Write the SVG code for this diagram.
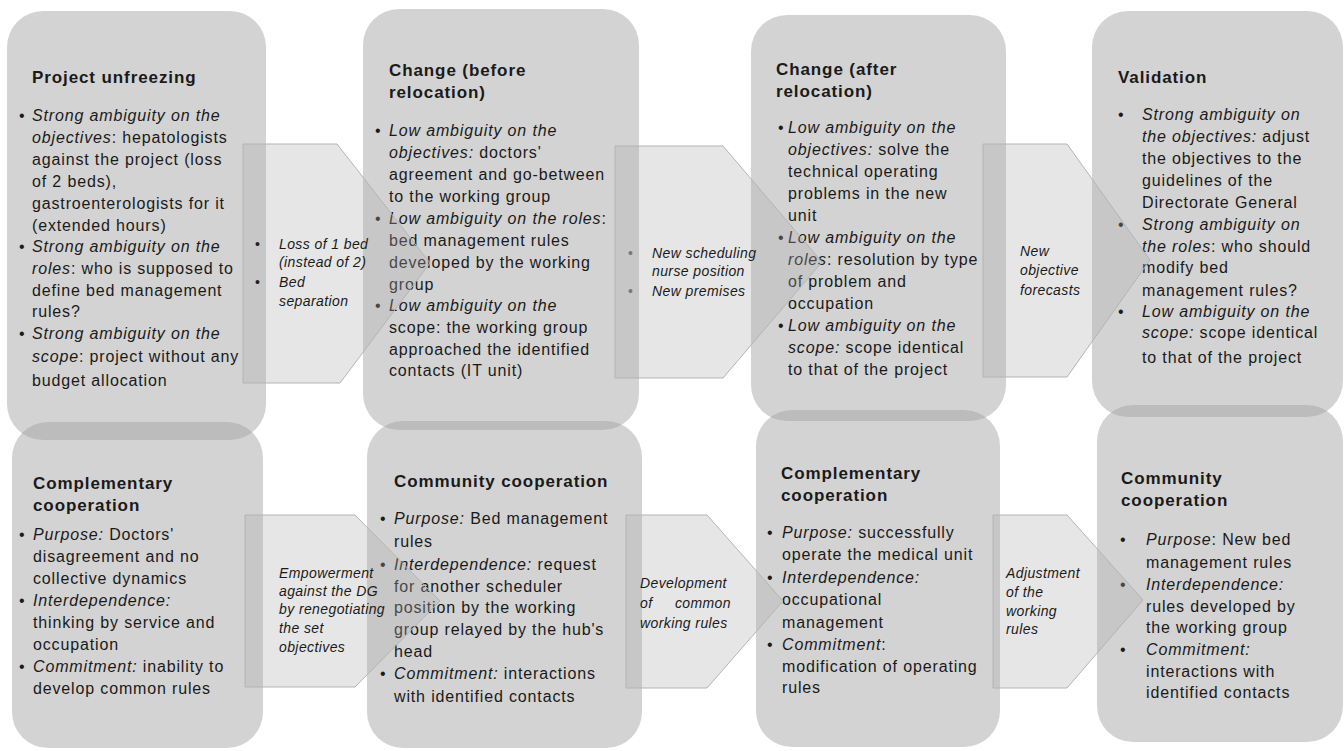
<svg xmlns="http://www.w3.org/2000/svg" width="1344" height="751" viewBox="0 0 1344 751">
<defs>
<style>
.box{fill:#a3a3a3;fill-opacity:.48}
.arr{fill:#acacac;fill-opacity:.3;stroke:#b4b4b4;stroke-width:1}
text{font-family:"Liberation Sans",Arial,sans-serif;fill:#1a1a1a}
.t{font-size:16px;letter-spacing:.85px}
.h{font-size:17px;font-weight:bold;letter-spacing:.9px}
.a{font-size:14px;font-style:italic;letter-spacing:.4px}
.i{font-style:italic}
.ab{font-size:14px;fill:#222}
.ag{font-size:14px;fill:#777}
</style>
</defs>
<rect width="1344" height="751" fill="#fff"/>

<g id="node-project-unfreezing">
<rect class="box" x="7" y="11" width="259" height="429" rx="36"/>
<text class="h" x="32" y="83">Project unfreezing</text>
<g class="t">
<text x="19" y="121">•</text><text x="19" y="252">•</text><text x="19" y="339">•</text>
<text x="32" y="121"><tspan class="i">Strong ambiguity on the</tspan></text>
<text x="32" y="143"><tspan class="i">objectives</tspan>: hepatologists</text>
<text x="32" y="165">against the project (loss</text>
<text x="32" y="187">of 2 beds),</text>
<text x="32" y="209">gastroenterologists for it</text>
<text x="32" y="231">(extended hours)</text>
<text x="32" y="252"><tspan class="i">Strong ambiguity on the</tspan></text>
<text x="32" y="274"><tspan class="i">roles</tspan>: who is supposed to</text>
<text x="32" y="296">define bed management</text>
<text x="32" y="317">rules?</text>
<text x="32" y="339"><tspan class="i">Strong ambiguity on the</tspan></text>
<text x="32" y="362"><tspan class="i">scope</tspan>: project without any</text>
<text x="32" y="386">budget allocation</text>
</g>
</g>

<g id="node-change-before">
<rect class="box" x="363" y="9" width="276" height="421" rx="36"/>
<text class="h" x="389" y="76">Change (before</text>
<text class="h" x="389" y="98">relocation)</text>
<g class="t">
<text x="375" y="136">•</text><text x="375" y="224">•</text><text x="375" y="311">•</text>
<text x="389" y="136"><tspan class="i">Low ambiguity on the</tspan></text>
<text x="389" y="158"><tspan class="i">objectives:</tspan> doctors'</text>
<text x="389" y="180">agreement and go-between</text>
<text x="389" y="202">to the working group</text>
<text x="389" y="224"><tspan class="i">Low ambiguity on the roles</tspan>:</text>
<text x="389" y="246">bed management rules</text>
<text x="389" y="268">developed by the working</text>
<text x="389" y="290">group</text>
<text x="389" y="311"><tspan class="i">Low ambiguity on the</tspan></text>
<text x="389" y="333">scope: the working group</text>
<text x="389" y="355">approached the identified</text>
<text x="389" y="376">contacts (IT unit)</text>
</g>
</g>

<g id="node-change-after">
<rect class="box" x="751" y="15" width="255" height="406" rx="36"/>
<text class="h" x="776" y="75">Change (after</text>
<text class="h" x="776" y="97">relocation)</text>
<g class="t">
<text x="778" y="133">•</text><text x="778" y="243">•</text><text x="778" y="331">•</text>
<text x="788" y="133"><tspan class="i">Low ambiguity on the</tspan></text>
<text x="788" y="155"><tspan class="i">objectives:</tspan> solve the</text>
<text x="788" y="177">technical operating</text>
<text x="788" y="199">problems in the new</text>
<text x="788" y="221">unit</text>
<text x="788" y="243"><tspan class="i">Low ambiguity on the</tspan></text>
<text x="788" y="265"><tspan class="i">roles</tspan>: resolution by type</text>
<text x="788" y="287">of problem and</text>
<text x="788" y="309">occupation</text>
<text x="788" y="331"><tspan class="i">Low ambiguity on the</tspan></text>
<text x="788" y="353"><tspan class="i">scope:</tspan> scope identical</text>
<text x="788" y="375">to that of the project</text>
</g>
</g>

<g id="node-validation">
<rect class="box" x="1092" y="11" width="251" height="406" rx="36"/>
<text class="h" x="1118" y="83">Validation</text>
<g class="t">
<text x="1118" y="120">•</text><text x="1118" y="230">•</text><text x="1118" y="317">•</text>
<text x="1142" y="120"><tspan class="i">Strong ambiguity on</tspan></text>
<text x="1142" y="142"><tspan class="i">the objectives:</tspan> adjust</text>
<text x="1142" y="164">the objectives to the</text>
<text x="1142" y="186">guidelines of the</text>
<text x="1142" y="208">Directorate General</text>
<text x="1142" y="230"><tspan class="i">Strong ambiguity on</tspan></text>
<text x="1142" y="252"><tspan class="i">the roles</tspan>: who should</text>
<text x="1142" y="273">modify bed</text>
<text x="1142" y="296">management rules?</text>
<text x="1142" y="317"><tspan class="i">Low ambiguity on the</tspan></text>
<text x="1142" y="338"><tspan class="i">scope:</tspan> scope identical</text>
<text x="1142" y="363">to that of the project</text>
</g>
</g>

<g id="node-complementary-1">
<rect class="box" x="12" y="422" width="251" height="326" rx="36"/>
<text class="h" x="33" y="489">Complementary</text>
<text class="h" x="33" y="511">cooperation</text>
<g class="t">
<text x="19" y="540">•</text><text x="19" y="606">•</text><text x="19" y="672">•</text>
<text x="33" y="540"><tspan class="i">Purpose:</tspan> Doctors'</text>
<text x="33" y="562">disagreement and no</text>
<text x="33" y="584">collective dynamics</text>
<text x="33" y="606"><tspan class="i">Interdependence:</tspan></text>
<text x="33" y="628">thinking by service and</text>
<text x="33" y="650">occupation</text>
<text x="33" y="672"><tspan class="i">Commitment:</tspan> inability to</text>
<text x="33" y="694">develop common rules</text>
</g>
</g>

<g id="node-community-1">
<rect class="box" x="367" y="421" width="275" height="327" rx="36"/>
<text class="h" x="394" y="487">Community cooperation</text>
<g class="t">
<text x="380" y="524">•</text><text x="380" y="570">•</text><text x="380" y="679">•</text>
<text x="394" y="524"><tspan class="i">Purpose:</tspan> Bed management</text>
<text x="394" y="547">rules</text>
<text x="394" y="570"><tspan class="i">Interdependence:</tspan> request</text>
<text x="394" y="592">for another scheduler</text>
<text x="394" y="613">position by the working</text>
<text x="394" y="635">group relayed by the hub's</text>
<text x="394" y="657">head</text>
<text x="394" y="679"><tspan class="i">Commitment:</tspan> interactions</text>
<text x="394" y="702">with identified contacts</text>
</g>
</g>

<g id="node-complementary-2">
<rect class="box" x="756" y="410" width="244" height="337" rx="36"/>
<text class="h" x="781" y="479">Complementary</text>
<text class="h" x="781" y="501">cooperation</text>
<g class="t">
<text x="767" y="538">•</text><text x="767" y="583">•</text><text x="767" y="650">•</text>
<text x="782" y="538"><tspan class="i">Purpose:</tspan> successfully</text>
<text x="782" y="560">operate the medical unit</text>
<text x="782" y="583"><tspan class="i">Interdependence:</tspan></text>
<text x="782" y="605">occupational</text>
<text x="782" y="628">management</text>
<text x="782" y="650"><tspan class="i">Commitment</tspan>:</text>
<text x="782" y="672">modification of operating</text>
<text x="782" y="693">rules</text>
</g>
</g>

<g id="node-community-2">
<rect class="box" x="1097" y="405" width="246" height="337" rx="36"/>
<text class="h" x="1121" y="484">Community</text>
<text class="h" x="1121" y="506">cooperation</text>
<g class="t">
<text x="1120" y="545">•</text><text x="1120" y="590">•</text><text x="1120" y="655">•</text>
<text x="1146" y="545"><tspan class="i">Purpose</tspan>: New bed</text>
<text x="1146" y="568">management rules</text>
<text x="1146" y="590"><tspan class="i">Interdependence:</tspan></text>
<text x="1146" y="612">rules developed by</text>
<text x="1146" y="633">the working group</text>
<text x="1146" y="655"><tspan class="i">Commitment:</tspan></text>
<text x="1146" y="677">interactions with</text>
<text x="1146" y="698">identified contacts</text>
</g>
</g>

<g id="connectors">
<polygon class="arr" points="243,144 337,144 430,263 340,383 243,383"/>
<polygon class="arr" points="615,146 723,146 822,262 723,378 615,378"/>
<polygon class="arr" points="983,144 1067,144 1150,260 1067,377 983,377"/>
<polygon class="arr" points="245,515 355,515 440,601 355,687 245,687"/>
<polygon class="arr" points="626,515 707,515 783,601 707,688 626,688"/>
<polygon class="arr" points="993,515 1067,515 1143,600 1067,688 993,688"/>

<text class="ab" x="255" y="249">•</text><text class="ab" x="255" y="287">•</text>
<text class="a" x="279" y="249">Loss of 1 bed</text>
<text class="a" x="279" y="267">(instead of 2)</text>
<text class="a" x="279" y="287">Bed</text>
<text class="a" x="279" y="306">separation</text>

<text class="ag" x="628" y="258">•</text><text class="ag" x="628" y="296">•</text>
<text class="a" x="652" y="258">New scheduling</text>
<text class="a" x="652" y="276">nurse position</text>
<text class="a" x="652" y="296">New premises</text>

<text class="a" x="1020" y="256">New</text>
<text class="a" x="1020" y="275">objective</text>
<text class="a" x="1020" y="295">forecasts</text>

<text class="a" x="279" y="578">Empowerment</text>
<text class="a" x="279" y="596">against the DG</text>
<text class="a" x="279" y="614">by renegotiating</text>
<text class="a" x="279" y="633">the set</text>
<text class="a" x="279" y="652">objectives</text>

<text class="a" x="640" y="588">Development</text>
<text class="a" x="640" y="608">of</text>
<text class="a" x="731" y="608" text-anchor="end">common</text>
<text class="a" x="640" y="628">working rules</text>

<text class="a" x="1006" y="578">Adjustment</text>
<text class="a" x="1006" y="597">of the</text>
<text class="a" x="1006" y="616">working</text>
<text class="a" x="1006" y="634">rules</text>
</g>
</svg>
